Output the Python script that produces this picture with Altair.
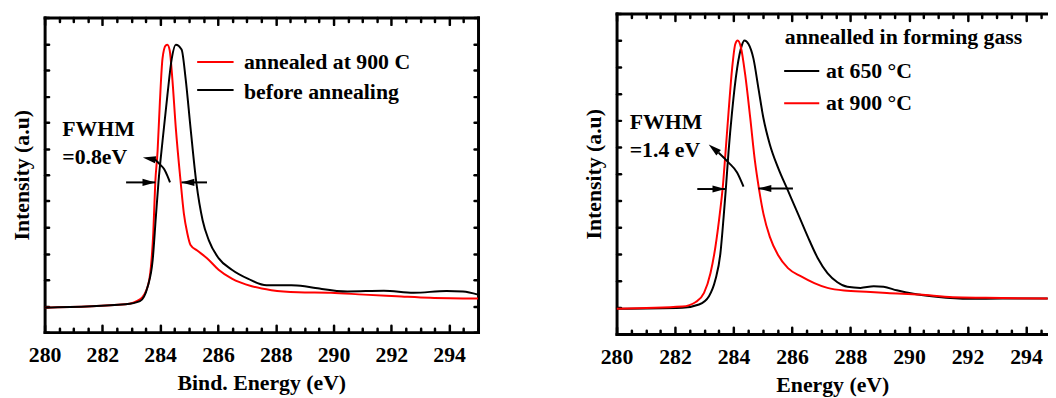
import altair as alt
import pandas as pd

FONT = "Liberation Serif"

# ---------------- Left panel: Bind. Energy ----------------
L_red_x = [280.0, 282.8, 283.3, 283.57, 283.68, 283.76, 283.83, 283.91, 283.99, 284.08, 284.19,
           284.25, 284.33, 284.42, 284.54, 284.71, 284.82, 284.94, 285.05, 285.28, 285.62, 286.02,
           286.48, 287.17, 287.85, 288.77, 289.91, 291.05, 292.19, 293.34, 295.0]
L_red_y = [0.93, 1.06, 1.25, 1.75, 2.50, 3.76, 5.71, 6.91, 8.79, 10.43, 10.93,
           10.96, 10.74, 9.67, 7.79, 5.71, 4.52, 3.76, 3.32, 3.11, 2.82, 2.38,
           2.04, 1.75, 1.60, 1.52, 1.50, 1.43, 1.37, 1.31, 1.28]
L_blk_x = [280.0, 282.8, 283.3, 283.57, 283.74, 283.85, 283.94, 284.08, 284.25, 284.40, 284.54,
           284.74, 284.88, 285.05, 285.25, 285.47, 285.68, 286.02, 286.48, 287.05, 287.68, 288.54,
           289.0, 289.45, 290.48, 291.74, 292.77, 293.91, 294.48, 295.0]
L_blk_y = [0.93, 1.06, 1.18, 1.75, 2.75, 4.39, 5.71, 7.28, 9.04, 10.43, 10.96,
           10.78, 9.67, 7.79, 5.71, 4.26, 3.51, 2.82, 2.38, 2.03, 1.79, 1.79,
           1.75, 1.67, 1.55, 1.58, 1.50, 1.57, 1.55, 1.43]

L_text = ["FWHM", "=0.8eV", "annealed at 900 C", "before annealing"]
L_text_x = [280.61, 280.61, 286.9, 286.9]
L_text_y = [7.47, 6.42, 10.04, 8.90]

L_leg_color = ["#ff0000", "#000000"]
L_leg_x1 = [285.28, 285.28]
L_leg_x2 = [286.54, 286.54]
L_leg_y = [10.30, 9.23]

L_arr_x1 = [282.82, 284.74]
L_arr_x2 = [283.83, 285.62]
L_arr_y = [5.71, 5.71]

L_head_x = [283.61, 284.96, 283.62]
L_head_y = [5.71, 5.71, 6.62]
L_head_dir = ["right", "left", "left"]
L_head_angle = [0, 0, 10]

L_lead_x = [283.80, 283.97, 284.14, 284.25, 284.34]
L_lead_y = [6.60, 6.42, 6.21, 5.96, 5.71]

# ---------------- Right panel: Energy ----------------
R_blk_x = [280.0, 282.25, 282.82, 283.16, 283.38, 283.55, 283.66, 283.74, 283.83, 283.95, 284.12,
           284.28, 284.37, 284.51, 284.68, 284.85, 285.02, 285.24, 285.52, 285.86, 286.20, 286.54,
           286.88, 287.21, 287.55, 287.89, 288.34, 288.79, 289.13, 289.58, 290.15, 290.93, 292.06,
           293.19, 294.74]
R_blk_y = [0.95, 0.99, 1.11, 1.42, 2.04, 3.02, 4.38, 5.49, 6.85, 8.33, 9.94,
           10.80, 10.99, 10.86, 10.31, 9.20, 8.09, 7.10, 6.23, 5.37, 4.51, 3.64,
           2.84, 2.28, 1.94, 1.77, 1.73, 1.79, 1.77, 1.64, 1.51, 1.40, 1.32,
           1.33, 1.33]
R_red_x = [280.0, 282.25, 282.71, 282.99, 283.21, 283.38, 283.53, 283.63, 283.72, 283.83, 283.95,
           284.06, 284.14, 284.25, 284.40, 284.57, 284.73, 284.87, 285.02, 285.24, 285.52, 285.86,
           286.31, 286.76, 287.21, 287.78, 288.68, 289.24, 290.37, 291.50, 292.62, 294.74]
R_red_y = [0.95, 1.03, 1.20, 1.54, 2.28, 3.27, 4.51, 5.49, 6.73, 8.33, 9.94,
           10.86, 10.99, 10.74, 9.69, 8.09, 6.48, 5.43, 4.51, 3.64, 2.96, 2.47,
           2.16, 1.91, 1.73, 1.63, 1.58, 1.54, 1.48, 1.38, 1.36, 1.33]

R_text = ["annealled in forming gass", "at 650 \u00b0C", "at 900 \u00b0C", "FWHM", "=1.4 eV"]
R_text_x = [285.75, 287.16, 287.16, 280.45, 280.45]
R_text_y = [10.84, 9.59, 8.37, 7.66, 6.63]

R_leg_color = ["#000000", "#ff0000"]
R_leg_x1 = [285.73, 285.73]
R_leg_x2 = [286.93, 286.93]
R_leg_y = [9.85, 8.64]

R_arr_x1 = [282.76, 284.85]
R_arr_x2 = [283.72, 286.03]
R_arr_y = [5.43, 5.45]

R_head_x = [283.50, 285.07, 283.32]
R_head_y = [5.43, 5.45, 6.94]
R_head_dir = ["right", "left", "left"]
R_head_angle = [0, 0, 40]

R_lead_x = [283.49, 283.66, 283.83, 284.12, 284.34]
R_lead_y = [6.79, 6.61, 6.42, 6.05, 5.52]

# ---------------- axes ----------------
MAJOR = [280, 282, 284, 286, 288, 290, 292, 294]
L_XTICKS = [280 + 0.5 * i for i in range(31)]
R_XTICKS = [280 + 0.5 * i for i in range(30)]
YTICKS = list(range(0, 13))
SHAPES = {"right": "M1,0L-1,-0.55L-1,0.55Z", "left": "M-1,0L1,-0.55L1,0.55Z"}


def panel(width, height, xdom, curves, texts, legend, arrows, heads, leader,
          xtitle, xticks, right_edge=True):
    xs = alt.Scale(domain=xdom, nice=False, zero=False)
    ys = alt.Scale(domain=[0, 12], nice=False, zero=False)
    tsize = {"condition": {"test": "datum.value % 2 === 0", "value": 7}, "value": 4}
    frame = dict(labels=False, title=None, grid=False, domain=True, domainColor="black",
                 domainWidth=3, domainCap="square", ticks=True, tickColor="black",
                 tickWidth=2.5, tickCap="round", minExtent=0)
    ax_label = alt.Axis(orient="bottom", values=MAJOR, ticks=False, domain=False, grid=False,
                        labelFlush=False, labelOverlap=False, labelPadding=13, title=xtitle,
                        titlePadding=7, format="d", minExtent=0)
    ax_bottom = alt.Axis(orient="top", offset=-height, values=xticks, tickSize=tsize, **frame)
    ax_top = alt.Axis(orient="bottom", offset=-height, values=xticks, tickSize=tsize, **frame)
    ay_title = alt.Axis(orient="left", ticks=False, domain=False, labels=False, grid=False,
                        title="Intensity (a.u)", titlePadding=11, minExtent=0)
    ay_left = alt.Axis(orient="right", offset=-width, values=YTICKS, tickSize=4, **frame)
    ay_right = alt.Axis(orient="left", offset=-width, values=YTICKS, tickSize=4, **frame)

    layers = []
    axes_x = [ax_label, ax_bottom]
    axes_y = [ay_title, ay_left]
    for i, (cx, cy, col) in enumerate(curves):
        df = pd.DataFrame({"x": cx, "y": cy})
        layers.append(
            alt.Chart(df).mark_line(color=col, strokeWidth=2, interpolate="monotone", clip=True)
            .encode(x=alt.X("x:Q", scale=xs, axis=axes_x[i]),
                    y=alt.Y("y:Q", scale=ys, axis=axes_y[i]))
        )
    lx1, lx2, ly, lc = legend
    ldf = pd.DataFrame({"x": lx1, "x2": lx2, "y": ly, "c": lc})
    layers.append(
        alt.Chart(ldf).mark_rule(strokeWidth=2)
        .encode(x=alt.X("x:Q", scale=xs, axis=ax_top), x2="x2:Q",
                y=alt.Y("y:Q", scale=ys, axis=(ay_right if right_edge else None)),
                color=alt.Color("c:N", scale=None))
    )
    tt, tx, ty = texts
    tdf = pd.DataFrame({"x": tx, "y": ty, "t": tt})
    layers.append(
        alt.Chart(tdf).mark_text(align="left", baseline="alphabetic", font=FONT,
                                 fontWeight="bold", fontSize=22, color="black")
        .encode(x=alt.X("x:Q", scale=xs, axis=None), y=alt.Y("y:Q", scale=ys, axis=None),
                text="t:N")
    )
    ax1, ax2, ay = arrows
    adf = pd.DataFrame({"x": ax1, "x2": ax2, "y": ay})
    layers.append(
        alt.Chart(adf).mark_rule(strokeWidth=2, color="black")
        .encode(x=alt.X("x:Q", scale=xs, axis=None), x2="x2:Q",
                y=alt.Y("y:Q", scale=ys, axis=None))
    )
    hx, hy, hd, ha = heads
    hdf = pd.DataFrame({"x": hx, "y": hy, "s": [SHAPES[d] for d in hd], "a": ha})
    layers.append(
        alt.Chart(hdf).mark_point(filled=True, opacity=1, color="black", size=169, strokeWidth=0)
        .encode(x=alt.X("x:Q", scale=xs, axis=None), y=alt.Y("y:Q", scale=ys, axis=None),
                shape=alt.Shape("s:N", scale=None), angle=alt.Angle("a:Q", scale=None))
    )
    cx, cy = leader
    cdf = pd.DataFrame({"x": cx, "y": cy})
    layers.append(
        alt.Chart(cdf).mark_line(color="black", strokeWidth=2, interpolate="monotone")
        .encode(x=alt.X("x:Q", scale=xs, axis=None), y=alt.Y("y:Q", scale=ys, axis=None))
    )
    return alt.layer(*layers).resolve_axis(x="independent", y="independent").properties(
        width=width, height=height)


left = panel(438, 318, [280, 295],
             [(L_red_x, L_red_y, "#ff0000"), (L_blk_x, L_blk_y, "#000000")],
             (L_text, L_text_x, L_text_y),
             (L_leg_x1, L_leg_x2, L_leg_y, L_leg_color),
             (L_arr_x1, L_arr_x2, L_arr_y),
             (L_head_x, L_head_y, L_head_dir, L_head_angle),
             (L_lead_x, L_lead_y),
             "Bind. Energy (eV)", L_XTICKS, right_edge=True)

right = panel(436, 324, [280, 294.75],
              [(R_blk_x, R_blk_y, "#000000"), (R_red_x, R_red_y, "#ff0000")],
              (R_text, R_text_x, R_text_y),
              (R_leg_x1, R_leg_x2, R_leg_y, R_leg_color),
              (R_arr_x1, R_arr_x2, R_arr_y),
              (R_head_x, R_head_y, R_head_dir, R_head_angle),
              (R_lead_x, R_lead_y),
              "Energy (eV)", R_XTICKS, right_edge=False)

# invisible strip that lowers the left panel a few pixels below the right one
strip = alt.Chart(pd.DataFrame({"k": [0]})).mark_rule(opacity=0).encode(
    x=alt.value(0), y=alt.value(0), y2=alt.value(1)
).properties(width=438, height=1)

left_col = alt.vconcat(strip, left, spacing=1)

chart = alt.hconcat(left_col, right, spacing=104).properties(
    padding={"left": 3, "top": 1.5, "right": 0, "bottom": 0}
).configure_axis(
    labelFont=FONT, titleFont=FONT, labelFontSize=22, titleFontSize=22,
    labelFontWeight="bold", titleFontWeight="bold", labelColor="black", titleColor="black"
).configure_view(strokeWidth=0)

chart.save("out.html", embed_options={"renderer": "svg", "actions": False})
